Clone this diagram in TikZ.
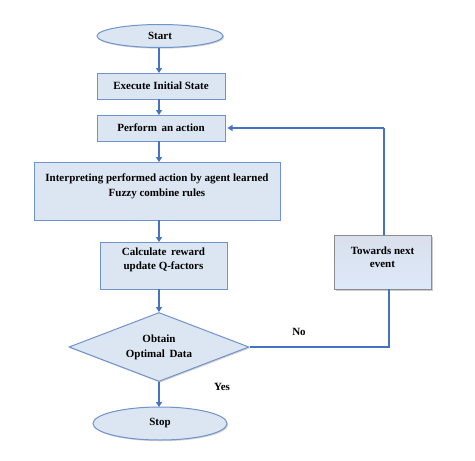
\documentclass[tikz,border=0pt]{standalone}
\usepackage{fontspec}
\setmainfont{Liberation Serif}
\usetikzlibrary{shapes.geometric,arrows.meta,shadows}
\definecolor{boxfill}{HTML}{DCE6F2}
\definecolor{boxline}{HTML}{6F93CC}
\definecolor{arrowblue}{HTML}{4472C4}
\definecolor{grayfill}{HTML}{C9D3E3}
\definecolor{grayline}{HTML}{8C8C8C}
\tikzset{
  flowbox/.style={draw=boxline, fill=boxfill, line width=1pt, align=center,
    font=\fontsize{11}{15}\selectfont\bfseries, inner sep=2pt,
    drop shadow={shadow xshift=1.2pt, shadow yshift=-1.2pt, opacity=0.35}},
  terminal/.style={flowbox, ellipse},
  decision/.style={flowbox, diamond, aspect=2.6, inner sep=0pt},
  eventbox/.style={draw=grayline, line width=0.9pt, align=center,
    top color=grayfill!70, bottom color=grayfill!110!black, inner sep=2pt,
    font=\fontsize{11}{13}\selectfont\bfseries,
    drop shadow={shadow xshift=1.5pt, shadow yshift=-1.5pt, opacity=0.4}},
  flowarrow/.style={draw=arrowblue, line width=1.8pt, -{Triangle[length=5pt,width=6pt]}},
  backline/.style={draw=arrowblue, line width=1.1pt},
  lbl/.style={font=\fontsize{11}{13}\selectfont\bfseries}
}
\begin{document}
\begin{tikzpicture}[x=1pt,y=-1pt]
\useasboundingbox (0,0) rectangle (475,461);
\node[terminal, minimum width=126pt, minimum height=23pt] (start) at (160,36) {Start};
\node[flowbox, minimum width=128pt, minimum height=26pt] (exec) at (161,86) {Execute Initial State};
\node[flowbox, minimum width=128pt, minimum height=26pt] (perform) at (161,128) {Perform\, an action};
\node[flowbox, minimum width=246pt, minimum height=58pt] (interp) at (157,191)
  {Interpreting performed action by agent learned\\Fuzzy combine rules\\[-4pt]~};
\node[flowbox, minimum width=127pt, minimum height=47pt, font=\fontsize{11}{14}\selectfont\bfseries] (calc) at (163.5,265.5)
  {Calculate\, reward\\update Q-factors\\[-1pt]~};
\node[eventbox, minimum width=97pt, minimum height=54pt] (towards) at (382.5,262)
  {Towards next\\event\\[-3pt]~};
\node[decision, minimum width=180pt, minimum height=69pt, font=\fontsize{11}{15}\selectfont\bfseries] (dec) at (159,347)
  {Obtain\\Optimal\, Data};
\node[terminal, minimum width=134pt, minimum height=33pt] (stop) at (160,423.5) {Stop};

\coordinate (nobend) at (389,347);
\coordinate (topbend) at (384,128);
\coordinate (tipend) at (227.5,128);

\draw[flowarrow] (159,47.5) -- (159,73);
\draw[flowarrow] (159,99) -- (159,115);
\draw[flowarrow] (159,141) -- (159,162);
\draw[flowarrow] (159,220) -- (159,242);
\draw[flowarrow] (159,289) -- (dec.north);
\draw[flowarrow] (dec.south) -- (159,407);

\draw[backline] (dec.east) -- (nobend) -- (towards.south -| nobend);
\draw[backline] (towards.north -| topbend) -- (topbend);
\draw[flowarrow, line width=1.4pt] (topbend) -- (tipend);

\node[lbl] (nolbl) at (299,332) {No};
\node[lbl] (yeslbl) at (222,387) {Yes};
\end{tikzpicture}
\end{document}
